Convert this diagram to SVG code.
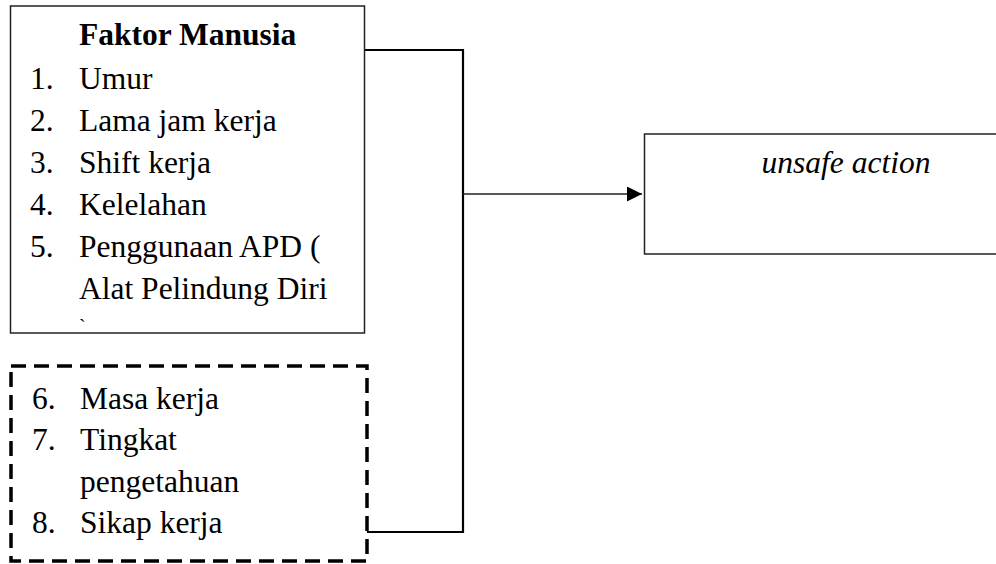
<svg xmlns="http://www.w3.org/2000/svg" width="996" height="564" viewBox="0 0 996 564">
<style>
text{font-family:"Liberation Serif","Times New Roman",serif;font-size:31.5px;fill:#000}
.b{font-weight:bold}
.i{font-style:italic}
.box{fill:#fff;stroke:#222;stroke-width:1.5}
.dash{fill:none;stroke:#000;stroke-width:3.5;stroke-dasharray:15 8}
.c{fill:none;stroke:#000;stroke-width:2.2}
.a{fill:none;stroke:#222;stroke-width:1.3}
</style>
<defs>
<marker id="ah" viewBox="0 0 15 15" refX="15" refY="7.5" markerWidth="15" markerHeight="15" markerUnits="userSpaceOnUse" orient="auto">
<path d="M0,0 L15,7.5 L0,15 Z" fill="#000"/>
</marker>
</defs>
<g id="connectors">
<polyline class="c" points="365,50 463,50 463,532 367,532"/>
<line class="a" x1="463" y1="194" x2="642" y2="194" marker-end="url(#ah)"/>
</g>
<g id="faktor-manusia">
<rect class="box" x="10.5" y="6" width="354" height="327"/>
<text class="b" x="79" y="45">Faktor Manusia</text>
<text x="30" y="89">1.</text><text x="79" y="89">Umur</text>
<text x="30" y="131">2.</text><text x="79" y="131">Lama jam kerja</text>
<text x="30" y="173">3.</text><text x="79" y="173">Shift kerja</text>
<text x="30" y="215">4.</text><text x="79" y="215">Kelelahan</text>
<text x="30" y="257">5.</text><text x="79" y="257">Penggunaan APD (</text>
<text x="79" y="299">Alat Pelindung Diri</text>
<text x="79" y="334" style="font-size:20px">`</text>
</g>
<g id="faktor-lain">
<rect class="dash" x="11" y="366" width="356" height="195"/>
<text x="32" y="409">6.</text><text x="80" y="409">Masa kerja</text>
<text x="32" y="450">7.</text><text x="80" y="450">Tingkat</text>
<text x="80" y="492">pengetahuan</text>
<text x="32" y="533">8.</text><text x="80" y="533">Sikap kerja</text>
</g>
<g id="unsafe-action">
<rect class="box" x="644.5" y="134" width="400" height="120"/>
<text class="i" x="846" y="173" text-anchor="middle">unsafe action</text>
</g>
</svg>
